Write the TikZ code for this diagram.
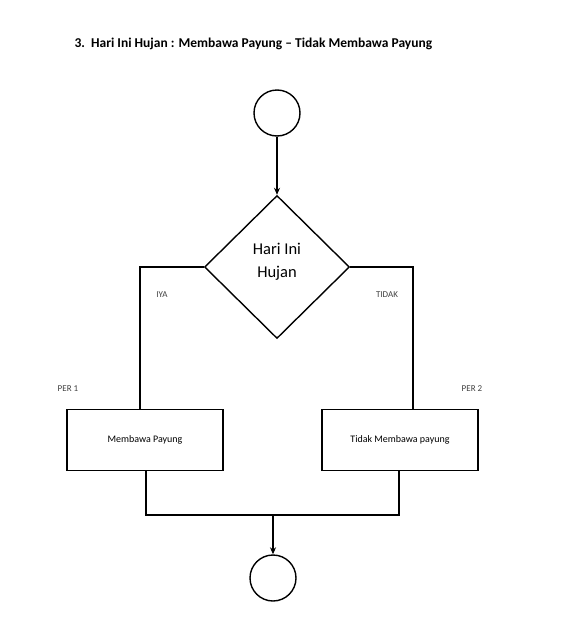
\documentclass[tikz,border=0pt]{standalone}
\usepackage{fontspec}
\setmainfont{Carlito}
\usetikzlibrary{shapes.geometric,arrows.meta}
\begin{document}
\begin{tikzpicture}[x=1pt,y=-1pt,
  line/.style={draw=black,line width=1.4pt},
  term/.style={circle,draw=black,line width=1.4pt,minimum size=46pt,inner sep=0pt},
  procbox/.style={rectangle,draw=black,line width=1.4pt,minimum width=156pt,minimum height=61pt,inner sep=0pt,font=\fontsize{10}{12}\selectfont},
  decis/.style={diamond,draw=black,line width=1.4pt,minimum width=145pt,minimum height=143pt,inner sep=0pt,aspect=1},
  dectext/.style={align=center,font=\fontsize{16.5}{23}\selectfont},
  lbl/.style={font=\fontsize{9}{10}\selectfont,text=black!75},
  arr/.style={line,-{Stealth[length=7pt,width=6pt]}}]
\useasboundingbox (0,0) rectangle (560,640);
\node[font=\bfseries\fontsize{13.5}{15}\selectfont,anchor=west] (title) at (71,44) {3.\ \ Hari Ini Hujan : Membawa Payung -- Tidak Membawa Payung};
\node[term] (start) at (277,113) {};
\node[decis] (dec) at (277,267) {};
\node[dectext] (dect) at (277,262) {Hari Ini\\Hujan};
\node[procbox] (p1) at (145,440) {Membawa Payung};
\node[procbox] (p2) at (400,440) {Tidak Membawa payung};
\node[term] (stop) at (273,578) {};
\coordinate (lc) at (140,267);
\coordinate (rc) at (413,267);
\coordinate (lt) at (140,409.5);
\coordinate (rt) at (413,409.5);
\coordinate (lb) at (146,515);
\coordinate (rb) at (399,515);
\coordinate (mb) at (273,515);
\draw[arr] (start) -- (dec.north);
\draw[line] (dec.west) -- (lc) -- (lt);
\draw[line] (dec.east) -- (rc) -- (rt);
\draw[line] (p1.south -| lb) -- (lb) -- (rb) -- (p2.south -| rb);
\draw[arr] (mb) -- (stop.north);
\node[lbl] (iya) at (162,295) {IYA};
\node[lbl] (tidak) at (387,295) {TIDAK};
\node[lbl] (per1) at (68,389) {PER 1};
\node[lbl] (per2) at (472,389) {PER 2};
\end{tikzpicture}
\end{document}
